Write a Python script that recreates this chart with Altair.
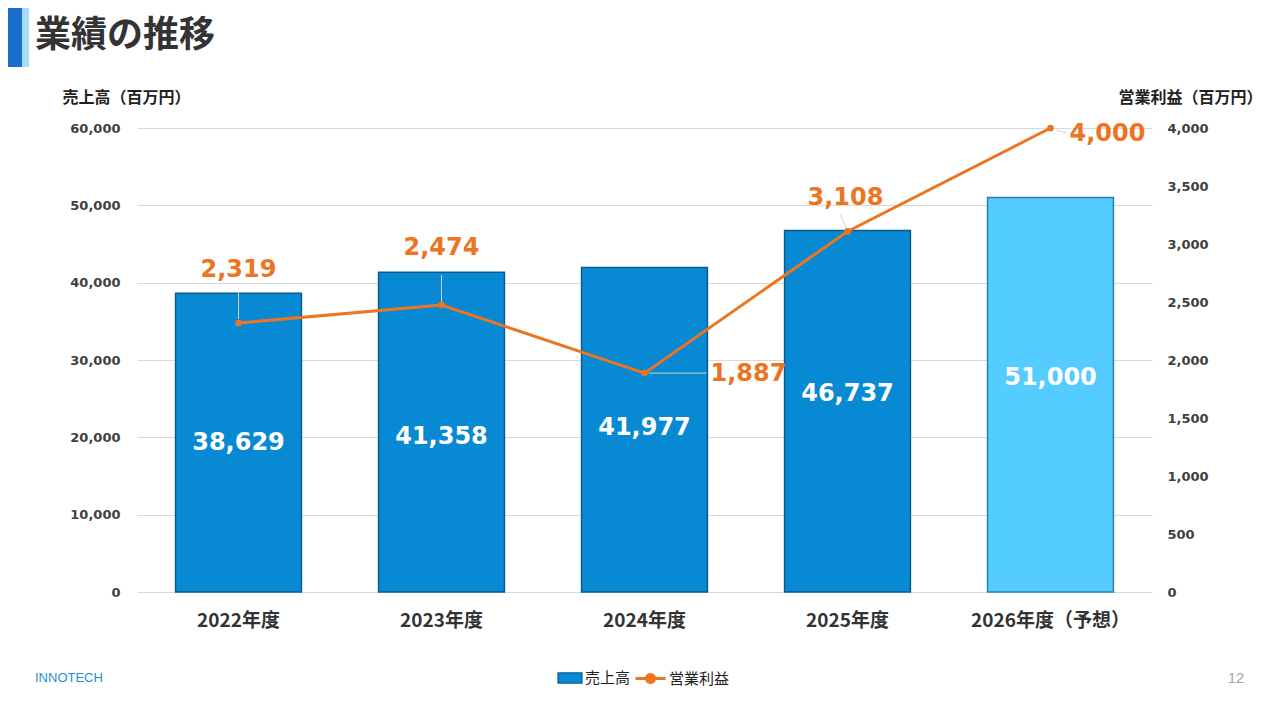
import altair as alt
import pandas as pd

# ---------------- data ----------------
years = ['2022年度', '2023年度', '2024年度', '2025年度', '2026年度（予想）']
sales = [38629, 41358, 41977, 46737, 51000]
profit = [2319, 2474, 1887, 3108, 4000]
sales_kind = ['売上高', '売上高', '売上高', '売上高', '予想']
profit_series = ['営業利益', '営業利益', '営業利益', '営業利益', '営業利益']
left_ticks = [0, 10000, 20000, 30000, 40000, 50000, 60000]
right_ticks = [0, 500, 1000, 1500, 2000, 2500, 3000, 3500, 4000]

df = pd.DataFrame({'year': years, 'sales': sales, 'profit': profit,
                   'kind': sales_kind, 'series': profit_series})

# ---------------- style ----------------
JP = 'Noto Sans CJK JP'
NUM = 'DejaVu Sans'
BLUE = '#0889D3'
BLUE_EDGE = '#0B5A8C'
LIGHT = '#55CCFF'
LIGHT_EDGE = '#2A7FB0'
ORANGE = '#EC7422'
GRID = '#D9D9D9'
LEADER = '#D0D0D0'

bar_label_dy = {'2022年度': 0, '2023年度': 5, '2024年度': -2, '2025年度': -17, '2026年度（予想）': -17}
profit_label_style = {
    '2022年度': ('center', 0, -53),
    '2023年度': ('center', 0, -57),
    '2024年度': ('left', 66, 1),
    '2025年度': ('center', -2, -33),
    '2026年度（予想）': ('left', 19, 6),
}
leader_style = {
    '2022年度': dict(yOffset=-4, y2Offset=-32),
    '2023年度': dict(yOffset=-3, y2Offset=-30),
    '2024年度': dict(xOffset=4, x2Offset=62),
    '2025年度': dict(xOffset=-1, yOffset=-3, x2Offset=-7, y2Offset=-17),
    '2026年度（予想）': dict(xOffset=6, yOffset=2, x2Offset=16, y2Offset=5),
}

xscale = alt.Scale(domain=years, paddingInner=0.38, paddingOuter=0.19)
yL = alt.Scale(domain=[0, 60000], nice=False, zero=True)
yR = alt.Scale(domain=[0, 4000], nice=False, zero=True)

base = alt.Chart(df)
x_axis = alt.Axis(labelAngle=0, labelFont=JP, labelFontSize=19, labelFontWeight='bold',
                  labelColor='#333333', labelPadding=19, domain=False, ticks=False)
x_enc = alt.X('year:N', sort=years, scale=xscale, title=None, axis=x_axis)

# ---------------- sales (left axis) ----------------
bars = base.mark_bar(strokeWidth=1.5).encode(
    x=x_enc,
    y=alt.Y('sales:Q', scale=yL,
            axis=alt.Axis(orient='left', values=left_ticks, format=',d', labelFont=NUM,
                          labelFontSize=13, labelFontWeight='bold', labelColor='#404040',
                          labelPadding=17, grid=True, gridColor=GRID, gridWidth=1,
                          domain=False, ticks=False,
                          title='売上高（百万円）', titleAngle=0, titleAlign='left',
                          titleBaseline='middle', titleX=-75, titleY=-31, titleFont=JP,
                          titleFontSize=16, titleFontWeight='bold', titleColor='#222222')),
    fill=alt.Fill('kind:N', scale=alt.Scale(domain=['売上高', '予想'], range=[BLUE, LIGHT]),
                  legend=alt.Legend(title=None, orient='none', legendX=420, legendY=537,
                                    values=['売上高'], symbolType='M-1,-0.42H1V0.42H-1Z',
                                    symbolSize=576, symbolStrokeColor=BLUE_EDGE,
                                    symbolStrokeWidth=1.2, labelFont=JP, labelFontSize=15,
                                    labelColor='#222222', labelOffset=2, padding=0)),
    stroke=alt.condition("datum.kind == '予想'", alt.value(LIGHT_EDGE), alt.value(BLUE_EDGE)),
)

bar_labels = []
for yr in years:
    bar_labels.append(
        base.transform_filter(alt.datum.year == yr)
        .transform_calculate(half='datum.sales / 2')
        .mark_text(font=NUM, fontSize=24, fontWeight='bold', color='white',
                   baseline='middle', align='center', dy=bar_label_dy[yr])
        .encode(x=x_enc, y=alt.Y('half:Q', scale=yL, axis=None),
                text=alt.Text('sales:Q', format=','))
    )

# ---------------- profit (right axis) ----------------
line = base.mark_line(strokeWidth=3).encode(
    x=x_enc,
    y=alt.Y('profit:Q', scale=yR,
            axis=alt.Axis(orient='right', values=right_ticks, format=',d', labelFont=NUM,
                          labelFontSize=13, labelFontWeight='bold', labelColor='#404040',
                          labelPadding=15, grid=False, domain=False, ticks=False,
                          title='営業利益（百万円）', titleAngle=0, titleAlign='right',
                          titleBaseline='middle', titleX=110, titleY=-31, titleFont=JP,
                          titleFontSize=16, titleFontWeight='bold', titleColor='#222222')),
    stroke=alt.Stroke('series:N', scale=alt.Scale(domain=['営業利益'], range=[ORANGE]),
                      legend=alt.Legend(title=None, orient='none', legendX=497, legendY=534,
                                        symbolType='M-1,0H1M0.27,0A0.27,0.27,0,1,1,-0.27,0A0.27,0.27,0,1,1,0.27,0',
                                        symbolSize=900, symbolStrokeWidth=3,
                                        symbolFillColor=ORANGE, labelFont=JP, labelFontSize=15,
                                        labelColor='#222222', labelOffset=2, padding=0)),
)

leaders = []
for yr in years:
    st = leader_style[yr]
    enc = dict(x=x_enc, y=alt.Y('profit:Q', scale=yR, axis=None))
    if 'y2Offset' in st:
        enc['y2'] = alt.Y2('profit:Q')
    if 'x2Offset' in st:
        enc['x2'] = alt.X2('year:N')
    leaders.append(
        base.transform_filter(alt.datum.year == yr)
        .mark_rule(color=LEADER, strokeWidth=1, **st).encode(**enc)
    )

points = base.mark_point(filled=True, size=45, color=ORANGE, opacity=1).encode(
    x=x_enc, y=alt.Y('profit:Q', scale=yR, axis=None))

profit_labels = []
for yr in years:
    al, dx, dy = profit_label_style[yr]
    profit_labels.append(
        base.transform_filter(alt.datum.year == yr)
        .mark_text(font=NUM, fontSize=24, fontWeight='bold', color=ORANGE,
                   align=al, baseline='middle', dx=dx, dy=dy)
        .encode(x=x_enc, y=alt.Y('profit:Q', scale=yR, axis=None),
                text=alt.Text('profit:Q', format=','))
    )

# ---------------- slide decorations ----------------
one = alt.Chart(pd.DataFrame({'t': ['業績の推移']}))
title_bar = one.mark_rect(color='#1A6FCD').encode(
    x=alt.value(-129), x2=alt.value(-115), y=alt.value(-120), y2=alt.value(-61))
title_strip = one.mark_rect(color='#A8DDF8').encode(
    x=alt.value(-115), x2=alt.value(-108), y=alt.value(-120), y2=alt.value(-61))
title_text = one.mark_text(font=JP, fontSize=36, fontWeight='bold', color='#333333',
                           align='left', baseline='middle').encode(
    text='t:N', x=alt.value(-102), y=alt.value(-92))
logo = alt.Chart(pd.DataFrame({'t': ['INNOTECH']})).mark_text(
    font='Liberation Sans', fontSize=13, color='#1E8FD0', align='left',
    baseline='middle').encode(text='t:N', x=alt.value(-102), y=alt.value(550))
page_no = alt.Chart(pd.DataFrame({'t': ['12']})).mark_text(
    font='Liberation Sans', fontSize=15, color='#A6A6A6', align='center',
    baseline='middle').encode(text='t:N', x=alt.value(1099), y=alt.value(550))

chart = (
    alt.layer(bars, *bar_labels, *leaders, line, points, *profit_labels,
              title_bar, title_strip, title_text, logo, page_no)
    .resolve_scale(y='independent')
    .properties(width=1015, height=464,
                autosize=alt.AutoSizeParams(type='none'),
                padding={'left': 129, 'top': 120, 'right': 120, 'bottom': 112},
                background='white')
    .configure_view(stroke=None)
)

chart.save('out.html', embed_options={'renderer': 'svg', 'actions': False})
